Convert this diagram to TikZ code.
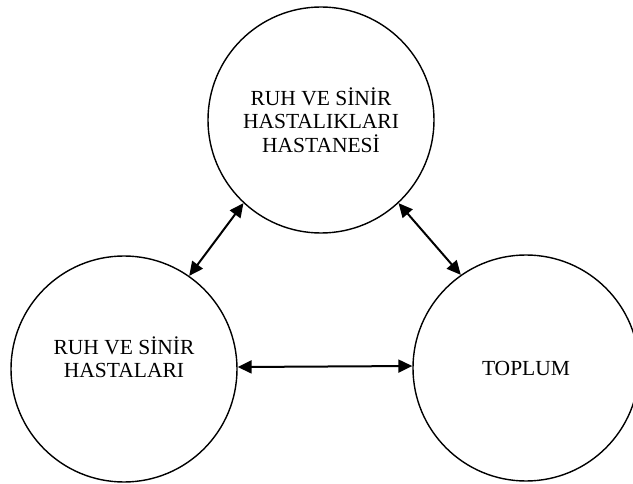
\documentclass[tikz,border=0pt]{standalone}
\usepackage{fontspec}
\setmainfont{Liberation Serif}
\usepackage{tikz}
\usetikzlibrary{arrows.meta,positioning}
\tikzset{
  circ/.style={circle,draw,line width=1.4pt,minimum size=226pt,inner sep=0pt,align=center,font=\fontsize{21.5}{23.5}\selectfont},
  link/.style={{Triangle[length=14pt,width=13pt]}-{Triangle[length=14pt,width=13pt]},line width=2pt},
}
\begin{document}
\begin{tikzpicture}[x=1pt,y=-1pt]
\useasboundingbox (0,0) rectangle (633,484);
% circles
\node[circ] (hospital) at (321,120) {RUH VE SİNİR\\HASTALIKLARI\\HASTANESİ};
\node[circ] (patients) at (124,369) {RUH VE SİNİR\\HASTALARI\\~};
\node[circ] (society) at (526,368) {TOPLUM};
% links
\draw[link] (hospital.227) -- (patients.55);
\draw[link] (hospital.313) -- (society.125);
\draw[link] (patients.1) -- (society.179);
\end{tikzpicture}
\end{document}
